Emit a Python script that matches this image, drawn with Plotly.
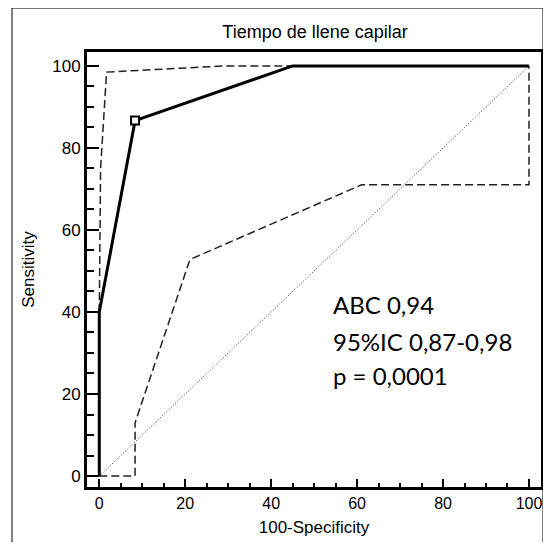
import plotly.graph_objects as go

# ROC curve data (100-Specificity, Sensitivity)
roc_x = [0, 0, 8.33, 45, 100]
roc_y = [0, 40, 86.67, 100, 100]

# 95% confidence bounds
upper_x = [0, 0.3, 1.7, 29, 100]
upper_y = [40, 75, 98.5, 100, 100]
lower_x = [0, 8.33, 8.33, 21.1, 61, 100, 100]
lower_y = [0, 0, 13, 52.8, 71, 71, 100]

# reference diagonal
diag_x = [0, 100]
diag_y = [0, 100]

# optimal criterion point
crit_x = [8.33]
crit_y = [86.67]

tick_vals = [0, 20, 40, 60, 80, 100]
tick_text = ["0", "20", "40", "60", "80", "100"]

title_text = "Tiempo de llene capilar"
x_title = "100-Specificity"
y_title = "Sensitivity"
stats_lines = ["ABC 0,94", "95%IC 0,87-0,98", "p = 0,0001"]
stats_y = [41.8, 32.7, 24.6]
stats_x = 54.0

fig = go.Figure()
fig.add_trace(go.Scatter(x=upper_x, y=upper_y, mode="lines",
                         line=dict(color="#222", width=1.5, dash="8px,4px"), showlegend=False))
fig.add_trace(go.Scatter(x=lower_x, y=lower_y, mode="lines",
                         line=dict(color="#222", width=1.5, dash="8px,4px"), showlegend=False))
fig.add_trace(go.Scatter(x=diag_x, y=diag_y, mode="lines",
                         line=dict(color="#333", width=1, dash="1px,2px"), showlegend=False))
fig.add_trace(go.Scatter(x=roc_x, y=roc_y, mode="lines",
                         line=dict(color="black", width=3), showlegend=False))
fig.add_trace(go.Scatter(x=crit_x, y=crit_y, mode="markers",
                         marker=dict(symbol="square", size=8, color="white",
                                     line=dict(color="black", width=2)), showlegend=False))

for txt, yy in zip(stats_lines, stats_y):
    fig.add_annotation(x=stats_x, y=yy, xref="x", yref="y", text=txt, showarrow=False,
                       xanchor="left", yanchor="middle",
                       font=dict(family="Lato", size=24, color="black"))

axis_common = dict(showgrid=False, zeroline=False, showline=True, linecolor="black",
                   linewidth=3, mirror=True, ticks="inside", tickwidth=2, tickcolor="black",
                   tickvals=tick_vals, ticktext=tick_text, automargin=False,
                   ticklabeloverflow="allow")

fig.update_xaxes(**axis_common, range=[-2.86, 102.8], ticklen=8,
                 tickfont=dict(family="Liberation Sans", size=16, color="black"),
                 minor=dict(dtick=5, tick0=0, ticks="inside", ticklen=4, tickwidth=2, tickcolor="black"),
                 title=dict(text=x_title, font=dict(family="Liberation Sans", size=17, color="black"), standoff=10))
fig.update_yaxes(**axis_common, range=[-2.68, 103.4], ticklen=12, ticklabelstandoff=0,
                 tickfont=dict(family="Liberation Sans", size=17, color="black"),
                 minor=dict(dtick=5, tick0=0, ticks="inside", ticklen=7, tickwidth=2, tickcolor="black"),
                 title=dict(text=y_title, font=dict(family="Liberation Sans", size=17, color="black"), standoff=14))

fig.add_shape(type="rect", xref="paper", yref="paper", x0=-0.1652, x1=1.0044, y0=-0.3, y1=1.1011,
              line=dict(color="black", width=1), fillcolor="rgba(0,0,0,0)", layer="below")

# the page body adds an 8px margin on every side; keep the page within the window
fig.update_layout(
    template="none",
    width=535, height=534,
    margin=dict(l=79, r=2, t=44, b=55, autoexpand=False),
    paper_bgcolor="white", plot_bgcolor="white",
    title=dict(text=title_text, x=0.574, xanchor="center", y=1 - 24 / 534, yanchor="middle",
               font=dict(family="Liberation Sans", size=18, color="black")),
)

fig.write_html("out.html")
